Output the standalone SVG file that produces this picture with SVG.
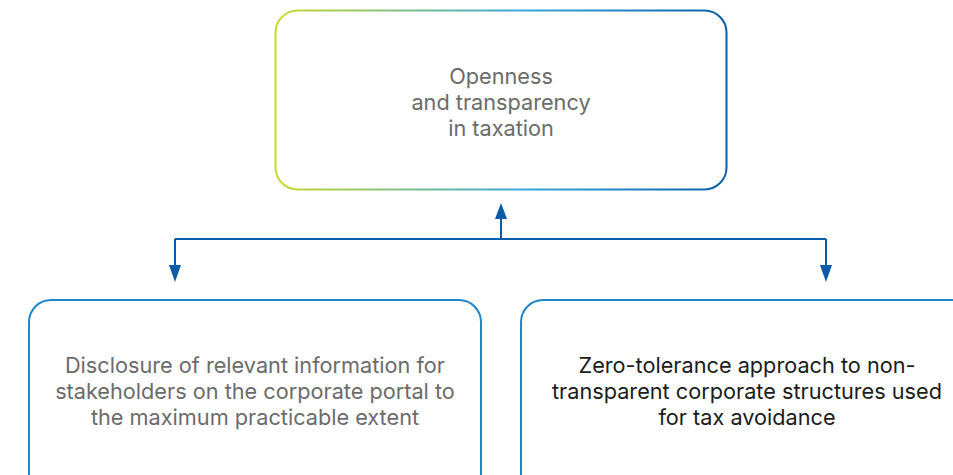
<svg xmlns="http://www.w3.org/2000/svg" width="953" height="475" viewBox="0 0 953 475">
  <defs>
    <linearGradient id="topStroke" x1="275" y1="0" x2="727" y2="0" gradientUnits="userSpaceOnUse">
      <stop offset="0" stop-color="#c8da2b"/>
      <stop offset="0.55" stop-color="#3aa6db"/>
      <stop offset="1" stop-color="#0a5ea8"/>
    </linearGradient>
    <style>
      .box { fill: #ffffff; stroke-width: 2; }
      .side { stroke: #1f87c9; }
      .label { font-family: Inter, "Noto Sans", "Liberation Sans", sans-serif; font-size: 21.7px; text-anchor: middle; }
      .muted { fill: #6b6b6b; }
      .dark { fill: #1b1b1b; }
      .link { fill: none; stroke: #0a5ca8; stroke-width: 2; }
      .head { fill: #0a5ca8; }
    </style>
  </defs>

  <!-- connectors: shared bus with one arrow up and two arrows down -->
  <g id="connectors">
    <path class="link" d="M175,239 L826,239"/>
    <path class="link" d="M501,239 L501,219"/>
    <path class="link" d="M175,239 L175,265"/>
    <path class="link" d="M826,239 L826,265"/>
    <path class="head" d="M495,219 L507,219 L501,203 Z"/>
    <path class="head" d="M169,265 L181,265 L175,282 Z"/>
    <path class="head" d="M820,265 L832,265 L826,282 Z"/>
  </g>

  <!-- top node -->
  <g id="node-openness">
    <rect class="box" x="275.5" y="10.5" width="451" height="179" rx="22" ry="22" stroke="url(#topStroke)"/>
    <text class="label muted" x="501" y="84">Openness</text>
    <text class="label muted" x="501" y="110">and transparency</text>
    <text class="label muted" x="501" y="136">in taxation</text>
  </g>

  <!-- bottom left node -->
  <g id="node-disclosure">
    <rect class="box side" x="29" y="300" width="452" height="200" rx="22" ry="22"/>
    <text class="label muted" x="255" y="373">Disclosure of relevant information for</text>
    <text class="label muted" x="255" y="399">stakeholders on the corporate portal to</text>
    <text class="label muted" x="255" y="425">the maximum practicable extent</text>
  </g>

  <!-- bottom right node -->
  <g id="node-zero-tolerance">
    <rect class="box side" x="521" y="300" width="452" height="200" rx="22" ry="22"/>
    <text class="label dark" x="747" y="373">Zero-tolerance approach to non-</text>
    <text class="label dark" x="747" y="399">transparent corporate structures used</text>
    <text class="label dark" x="747" y="425">for tax avoidance</text>
  </g>
</svg>
